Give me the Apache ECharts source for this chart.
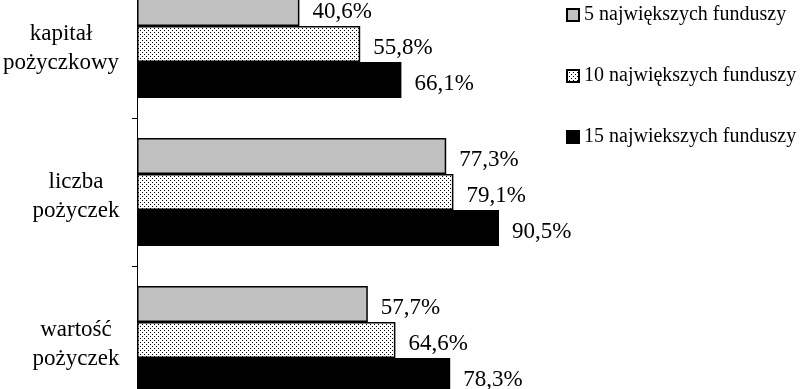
<!DOCTYPE html>
<html><head><meta charset="utf-8">
<script src="https://cdn.jsdelivr.net/npm/echarts@6/dist/echarts.min.js"></script>
<style>html,body{margin:0;padding:0;background:#fff;overflow:hidden}#c{position:absolute;left:0;top:-30px;width:808px;height:449px}</style>
</head><body><div id="c"></div>
<script>
const categories = ['kapitał\npożyczkowy', 'liczba\npożyczek', 'wartość\npożyczek'];
const seriesNames = ['5 największych funduszy', '10 największych funduszy', '15 najwiekszych funduszy'];
const top5 = [40.6, 77.3, 57.7];
const top10 = [55.8, 79.1, 64.6];
const top15 = [66.1, 90.5, 78.3];

function dots() {
  const c = document.createElement('canvas');
  c.width = 4; c.height = 4;
  const g = c.getContext('2d');
  g.fillStyle = '#fff'; g.fillRect(0, 0, 4, 4);
  g.fillStyle = '#000';
  g.fillRect(0, 0, 1, 1); g.fillRect(2, 2, 1, 1);
  return c;
}
const font = '"Liberation Serif", "Times New Roman", serif';
const lbl = {
  show: true, position: 'right', distance: 13, color: '#000',
  fontFamily: font, fontSize: 23, offset: [0, 4],
  formatter: p => p.value.toFixed(1).replace('.', ',') + '%'
};
const fills = ['#c0c0c0', {image: dots(), repeat: 'repeat'}, '#000'];
const data = [top5, top10, top15];

const chart = echarts.init(document.getElementById('c'));
chart.setOption({
  animation: false,
  backgroundColor: '#fff',
  grid: {left: 137, width: 400, top: 0, height: 444, outerBoundsMode: 'none', containLabel: false},
  legend: {
    orient: 'vertical', left: 561, top: 30, itemWidth: 12, itemHeight: 12, itemGap: 41,
    icon: 'rect',
    textStyle: {fontFamily: font, fontSize: 20, color: '#000'},
    data: seriesNames
  },
  xAxis: {type: 'value', min: 0, max: 100, show: false},
  yAxis: {
    type: 'category', inverse: true, data: categories,
    axisLine: {lineStyle: {color: '#000', width: 1}},
    axisTick: {show: true, length: 5, lineStyle: {color: '#000'}},
    axisLabel: {
      color: '#000', fontFamily: font, fontSize: 23, lineHeight: 29, align: 'center', margin: 61,
      padding: [9, 0, 0, 0],
      formatter: (v, i) => i === 0 ? v.split('\n').map(s => '{s|' + s + '}').join('\n') : v,
      rich: {s: {fontFamily: font, fontSize: 23, lineHeight: 29, color: '#000', padding: [0, 30, 0, 0]}}
    }
  },
  series: seriesNames.map((n, i) => ({
    name: n, type: 'bar', data: data[i],
    barCategoryGap: '27%', barGap: '0%',
    itemStyle: {color: fills[i], borderColor: '#000', borderWidth: 1.5},
    label: lbl
  }))
});
</script></body></html>
